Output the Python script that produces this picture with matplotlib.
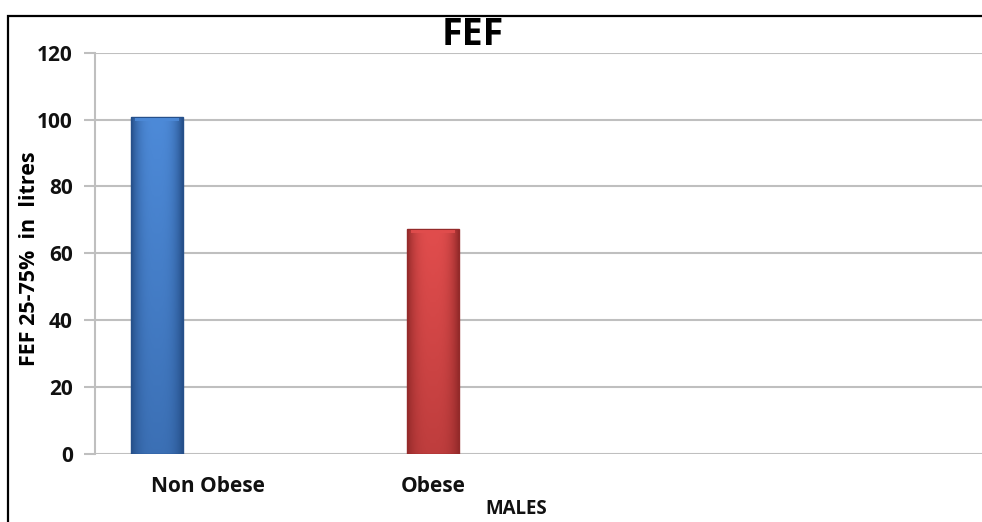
import numpy as np
import matplotlib.pyplot as plt
from matplotlib.patches import Rectangle
from matplotlib.colors import LinearSegmentedColormap

categories = ['Non Obese', 'Obese']
values = [100.8, 67.2]
bar_colors = [('#26508a', '#4d8ad8'), ('#942a2a', '#e14d4d')]
yticks = [0, 20, 40, 60, 80, 100, 120]

plt.rcParams['font.family'] = ['Open Sans', 'DejaVu Sans']
plt.rcParams['font.weight'] = 'bold'

fig = plt.figure(figsize=(9.82, 5.22), dpi=100)
ax = fig.add_axes([0.0967, 0.1312, 0.9033, 0.7678])

# outer frame of the original chart (cropped at right and bottom)
fig.patches.append(Rectangle((8 / 982, -0.1), 1.2, 1 - 16 / 522 + 0.1,
                             transform=fig.transFigure, fill=False,
                             edgecolor='black', linewidth=1.6, zorder=10))

x = np.arange(len(categories))
bars = ax.bar(x, values, width=0.188, color='none', edgecolor='none', zorder=3)

# shaded bars: lighter middle, darker sides and bottom
hprof = 1 - np.abs(np.linspace(-1, 1, 64)) ** 3
vprof = 0.55 + 0.45 * np.linspace(0, 1, 64)
img = np.outer(vprof, hprof)
for b, (dark, light) in zip(bars, bar_colors):
    cmap = LinearSegmentedColormap.from_list('g', [dark, light])
    x0, w, h = b.get_x(), b.get_width(), b.get_height()
    im = ax.imshow(img, cmap=cmap, extent=[x0, x0 + w, 0, h],
                   aspect='auto', origin='lower', zorder=3, vmin=0, vmax=1)
    im.set_clip_path(b)
    ax.add_patch(Rectangle((x0, 0), w, h, fill=False, edgecolor=dark,
                           linewidth=1.0, zorder=4))
    # top bevel
    ax.add_patch(Rectangle((x0 + w * 0.08, h - 1.3), w * 0.84, 1.0,
                           color=light, alpha=0.9, zorder=4, linewidth=0))

ax.set_xlim(-0.2246, 2.989)
ax.set_ylim(0, 120)
ax.set_yticks(yticks)
ax.set_xticks([])
ax.yaxis.grid(True, color='#bfbfbf', linewidth=1.5)
ax.set_axisbelow(True)
for s in ['top', 'right', 'bottom']:
    ax.spines[s].set_visible(False)
ax.spines['left'].set_color('#bfbfbf')
ax.spines['left'].set_linewidth(1.5)
ax.tick_params(axis='y', length=8, width=1.5, color='#bfbfbf',
               labelsize=15, pad=8, labelcolor='#111111')
for t in ax.get_yticklabels():
    t.set_fontweight('bold')

# category labels
label_x = [0.185, 1.0]
for lx, name in zip(label_x, categories):
    ax.text(lx, -9.8, name, ha='center', va='center', fontsize=15,
            fontweight='bold', color='#111111')

ax.text(1.3, -19.6, 'MALES', ha='center', va='bottom', fontsize=13.5,
        fontweight='bold', color='#111111', clip_on=False)

fig.text(30 / 982, 1 - 259 / 522, 'FEF 25-75%  in  litres', rotation=90,
         ha='center', va='center', fontsize=15.5, fontweight='bold')

fig.text(473 / 982, 1 - 35 / 522, 'FEF', ha='center', va='center',
         fontsize=27, fontweight='bold')

fig.savefig('out.png', dpi=100)
